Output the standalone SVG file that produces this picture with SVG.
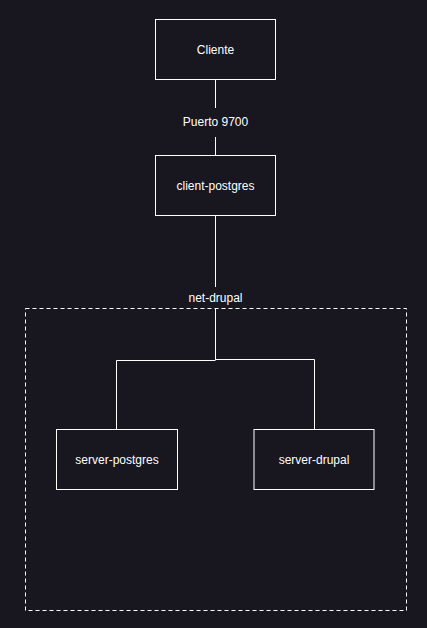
<svg xmlns="http://www.w3.org/2000/svg" width="427" height="628" viewBox="0 0 427 628">
<style>
.node rect{fill:#18161f;stroke:#ffffff;stroke-width:1}
text{font-family:"Liberation Sans",Arial,sans-serif;font-size:12px;fill:#ffffff;text-anchor:middle;dominant-baseline:central}
.conn{stroke:#ffffff;stroke-width:1;fill:none}
</style>
<rect width="427" height="628" fill="#18161f"/>
<g id="net-drupal">
<rect x="25.5" y="308.5" width="381" height="302" fill="none" stroke="#ffffff" stroke-width="1" stroke-dasharray="4 3"/>
<text x="215.5" y="297.5">net-drupal</text>
</g>
<g id="connectors">
<path class="conn" d="M215.5 79.5V108"/>
<path class="conn" d="M215.5 137V155.5"/>
<text x="215.5" y="121.5">Puerto 9700</text>
<path class="conn" d="M215.5 215.5V287"/>
<path class="conn" d="M215.5 308.5V360"/>
<path class="conn" d="M116.5 429.5V360.5H215.5"/>
<path class="conn" d="M314.5 429.5V359.5H215.5"/>
</g>
<g id="cliente" class="node">
<rect x="155.5" y="19.5" width="120" height="60"/>
<text x="215.5" y="49.5">Cliente</text>
</g>
<g id="client-postgres" class="node">
<rect x="155.5" y="155.5" width="120" height="60"/>
<text x="215.5" y="185.5">client-postgres</text>
</g>
<g id="server-postgres" class="node">
<rect x="56.5" y="429.5" width="121" height="60"/>
<text x="117" y="459.5">server-postgres</text>
</g>
<g id="server-drupal" class="node">
<rect x="254" y="429.5" width="120" height="60"/>
<text x="314" y="459.5">server-drupal</text>
</g>
</svg>
